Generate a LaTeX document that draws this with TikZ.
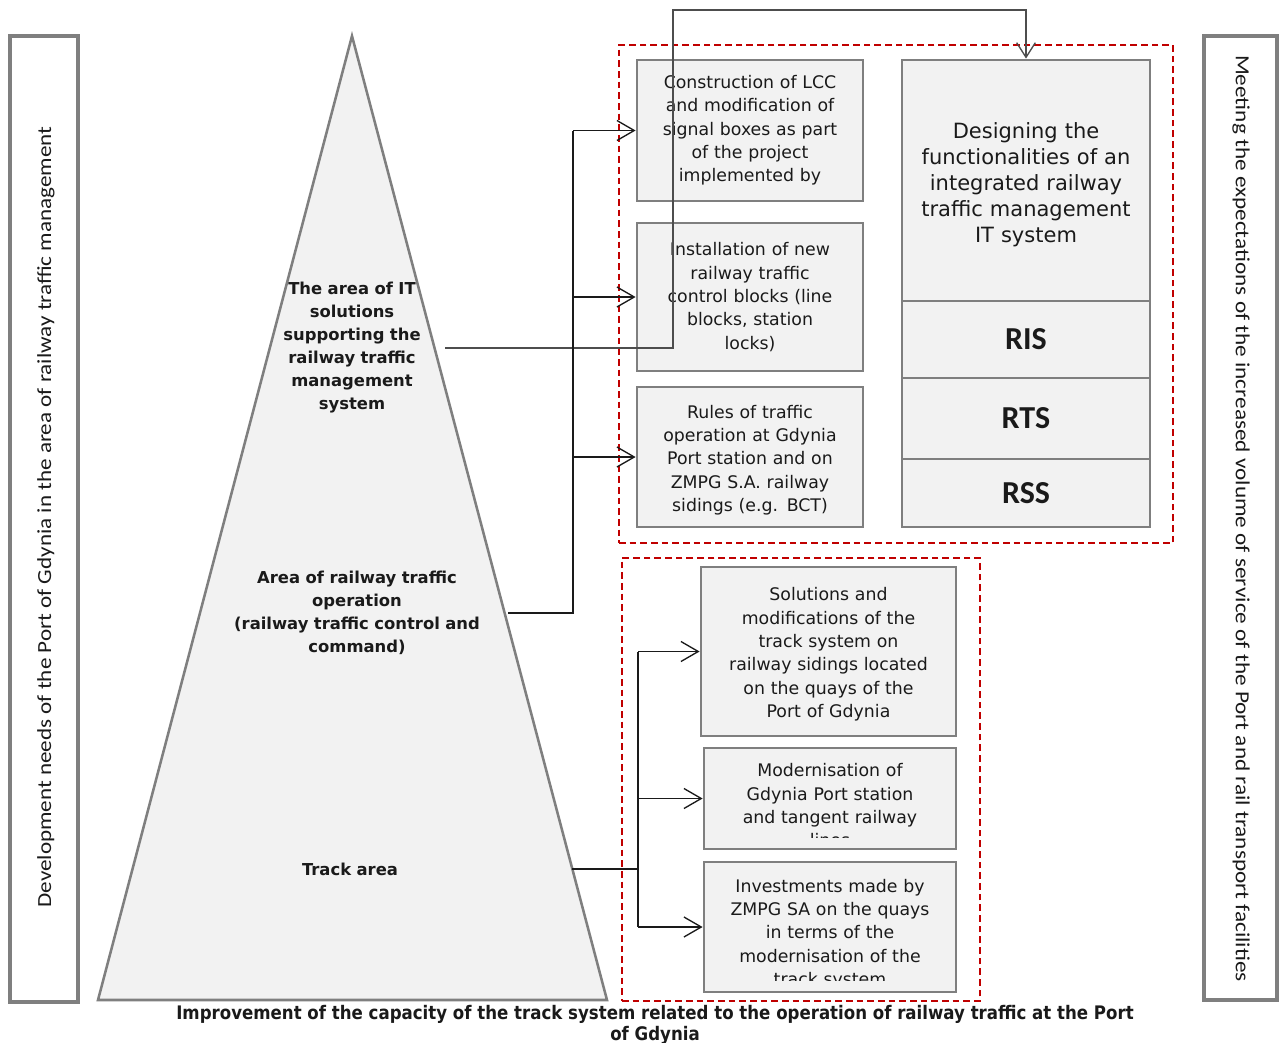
\documentclass[tikz,border=0pt]{standalone}
\usepackage{fontspec}
\usepackage{graphicx}
\setmainfont{DejaVu Sans}
\newfontfamily\carlito{Carlito}
\usetikzlibrary{arrows.meta,calc}
\definecolor{boxfill}{HTML}{F2F2F2}
\definecolor{boxline}{HTML}{7F7F7F}
\definecolor{frameline}{HTML}{7F7F7F}
\definecolor{reddash}{HTML}{C00000}
\definecolor{ink}{HTML}{1A1A1A}
\definecolor{linkgray}{HTML}{4D4D4D}
\newcommand\boxfont{\fontsize{13pt}{17.5pt}\selectfont}
\tikzset{
  frame/.style={draw=frameline, line width=2.8pt, fill=white, inner sep=0pt},
  sidetext/.style={inner sep=0pt, text=ink, font=\carlito\fontsize{15pt}{17pt}\selectfont},
  tri/.style={draw=boxline, line width=1.9pt, fill=boxfill},
  tritext/.style={inner sep=0pt, align=center, text=ink, font=\bfseries\fontsize{12.3pt}{17.25pt}\selectfont},
  redzone/.style={draw=reddash, line width=1.8pt, dash pattern=on 5pt off 3pt, inner sep=0pt},
  gbox/.style={draw=boxline, line width=2.1pt, fill=boxfill, inner sep=0pt, align=center, text=ink, font=\boxfont},
  boxtext/.style={inner sep=0pt, align=center, text=ink, font=\boxfont},
  bigtext/.style={font=\fontsize{15.75pt}{19.6pt}\selectfont},
  codetext/.style={font=\carlito\bfseries\fontsize{24pt}{26pt}\selectfont},
  conn/.style={draw=ink, line width=1.3pt},
  arr/.style={conn, -{Straight Barb[length=13pt,width=15pt,line width=1pt]}},
  linkup/.style={draw=linkgray, line width=1.2pt, -{Straight Barb[length=11pt,width=14pt,line width=1pt]}},
  captext/.style={inner sep=0pt, text=ink},
}
\begin{document}
\begin{tikzpicture}[x=0.75pt,y=-0.75pt]
\useasboundingbox[fill=white] (0,0) rectangle (1279,1043);

% side frames
\node[frame, minimum width=51pt, minimum height=724.5pt] (lframe) at (44,519) {};
\node[frame, minimum width=54.75pt, minimum height=723pt] (rframe) at (1240.5,518) {};
\node[sidetext, rotate=90] (ltext) at (46,517)
  {\resizebox{585.75pt}{\height}{Development needs of the Port of Gdynia in the area of railway traffic management}};
\node[sidetext, rotate=-90] (rtext) at (1241,518.5)
  {\resizebox{695pt}{\height}{Meeting the expectations of the increased volume of service of the Port and rail transport facilities}};

% pyramid
\draw[tri] (352,36) -- (607,1000) -- (98,1000) -- cycle;
\node[tritext, text width=139.5pt] (it) at (352,348)
  {The area of IT\\solutions\\supporting the\\railway traffic\\management\\system};
\node[tritext, text width=226.5pt] (op) at (357,613)
  {Area of railway traffic\\operation\\(railway traffic control and\\command)};
\node[tritext, text width=333pt] (track) at (350,869) {Track area};

% red dashed zones
\node[redzone, minimum width=415.5pt, minimum height=373.5pt] (zone1) at (896,294) {};
\node[redzone, minimum width=268.5pt, minimum height=332.25pt] (zone2) at (801,779.5) {};

% boxes of the upper zone
\node[gbox, text width=160pt, minimum width=169.5pt, minimum height=105.75pt] (A) at (750,130.5)
  {Construction of LCC\\and modification of\\signal boxes as part\\of the project\\implemented by};
\node[gbox, text width=160pt, minimum width=169.5pt, minimum height=111pt] (B) at (750,297)
  {Installation of new\\railway traffic\\control blocks (line\\blocks, station\\locks)};
\node[gbox, minimum width=169.5pt, minimum height=105pt] (C) at (750,457) {};
\node[boxtext, text width=160pt] (Ctext) at (750,460)
  {Rules of traffic\\operation at Gdynia\\Port station and on\\ZMPG S.A. railway\\sidings (e.g. BCT)};
\node[gbox, minimum width=186pt, minimum height=180.75pt] (D) at (1026,180.5) {};
\node[boxtext, bigtext, text width=180pt] (Dtext) at (1026,184.5)
  {Designing the\\functionalities of an\\integrated railway\\traffic management\\IT system};
\node[gbox, codetext, text width=180pt, minimum width=186pt, minimum height=57.75pt] (RIS) at (1026,339.5) {RIS};
\node[gbox, codetext, text width=180pt, minimum width=186pt, minimum height=60.75pt] (RTS) at (1026,418.5) {RTS};
\node[gbox, codetext, text width=180pt, minimum width=186pt, minimum height=51pt] (RSS) at (1026,493) {RSS};

% boxes of the lower zone
\node[gbox, minimum width=191.25pt, minimum height=126.75pt] (E) at (828.5,651.5) {};
\node[boxtext, text width=185pt] (Etext) at (828.5,654.5)
  {Solutions and\\modifications of the\\track system on\\railway sidings located\\on the quays of the\\Port of Gdynia};
\node[gbox, minimum width=189pt, minimum height=75.75pt] (F) at (830,798.5) {};
\node[gbox, minimum width=189pt, minimum height=97.5pt] (G) at (830,927) {};
\begin{scope}
  \clip (F.north west) rectangle ($(F.south east)+(0,-13)$);
  \node[boxtext, text width=185pt] (Ftext) at ($(F.center)+(0,7)$)
    {Modernisation of\\Gdynia Port station\\and tangent railway\\lines};
\end{scope}
\begin{scope}
  \clip (G.north west) rectangle ($(G.south east)+(0,-13)$);
  \node[boxtext, text width=185pt] (Gtext) at ($(G.center)+(0,7)$)
    {Investments made by\\ZMPG SA on the quays\\in terms of the\\modernisation of the\\track system};
\end{scope}

% connectors
\coordinate (itturn) at (673,10);
\draw[linkup] (it.east) -| (itturn) -| (D.north);

\coordinate (bus1) at (573,0);
\draw[conn] (op.east) -| (bus1 |- A.west);
\draw[arr] (bus1 |- A.west) -- (A.west);
\draw[arr] (bus1 |- B.west) -- (B.west);
\draw[arr] (bus1 |- C.west) -- (C.west);

\coordinate (bus2) at (638,0);
\draw[conn] (track.east) -- (bus2 |- track.east);
\draw[conn] (bus2 |- E.west) -- (bus2 |- G.west);
\draw[arr] (bus2 |- E.west) -- (E.west);
\draw[arr] (bus2 |- F.west) -- (F.west);
\draw[arr] (bus2 |- G.west) -- (G.west);

% caption
\node[captext] (caption) at (655,1025.5)
  {\resizebox{718pt}{\height}{\bfseries\fontsize{14pt}{15.75pt}\selectfont
   \begin{tabular}{@{}c@{}}Improvement of the capacity of the track system related to the operation of railway traffic at the Port\\of Gdynia\end{tabular}}};
\end{tikzpicture}
\end{document}
